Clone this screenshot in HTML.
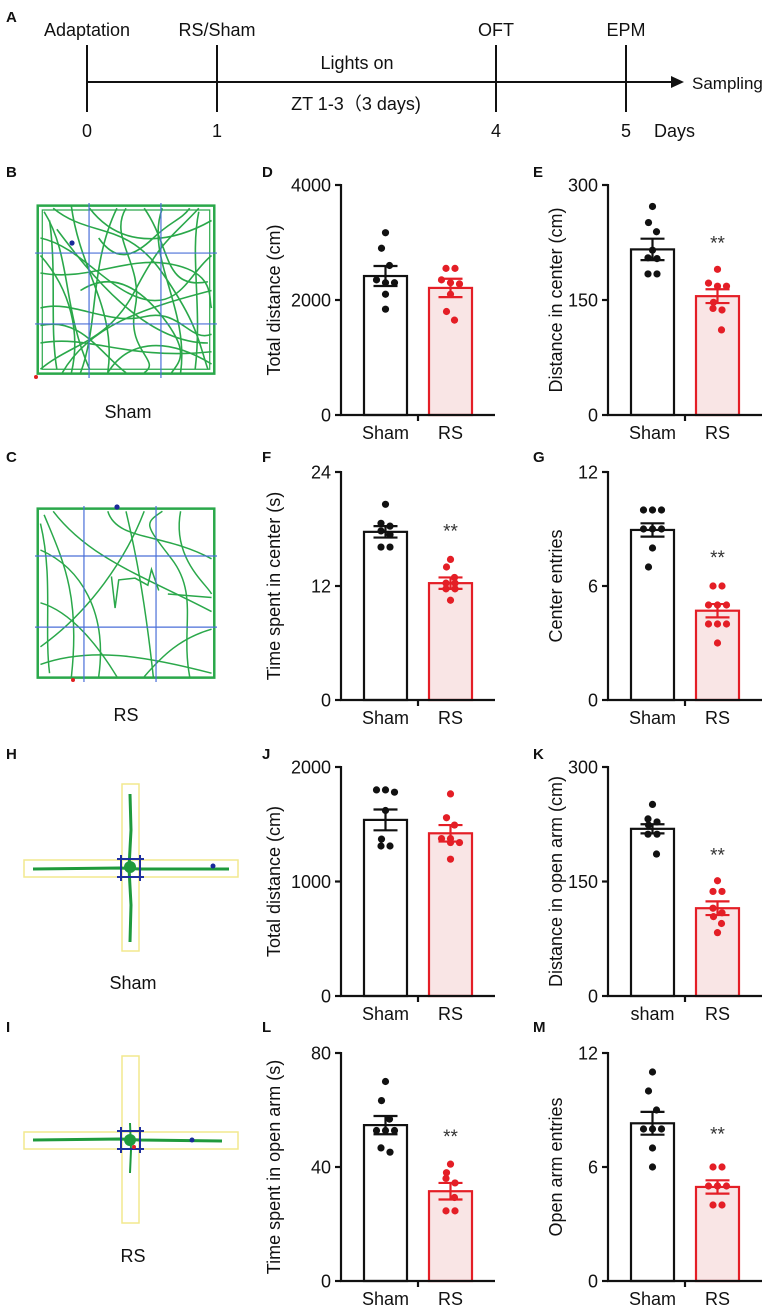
<!DOCTYPE html>
<html><head><meta charset="utf-8">
<style>
html,body{margin:0;padding:0;background:#fff;}
body{width:767px;height:1310px;overflow:hidden;position:relative;font-family:"Liberation Sans",Arial,sans-serif;}
svg text{font-family:"Liberation Sans",Arial,sans-serif;}
</style></head>
<body>
<svg id="fig" width="767" height="1310" viewBox="0 0 767 1310" xmlns="http://www.w3.org/2000/svg" style="position:absolute;left:0;top:0">
<g font-size="18" fill="#111">
  <text x="6" y="22" font-size="15" font-weight="bold">A</text>
  <text x="87" y="36" text-anchor="middle">Adaptation</text>
  <text x="217" y="36" text-anchor="middle">RS/Sham</text>
  <text x="496" y="36" text-anchor="middle">OFT</text>
  <text x="626" y="36" text-anchor="middle">EPM</text>
  <line x1="87" y1="82" x2="674" y2="82" stroke="#111" stroke-width="2"/>
  <polygon points="684,82 671,76 671,88" fill="#111"/>
  <g stroke="#111" stroke-width="2">
    <line x1="87" y1="45" x2="87" y2="112"/><line x1="217" y1="45" x2="217" y2="112"/>
    <line x1="496" y1="45" x2="496" y2="112"/><line x1="626" y1="45" x2="626" y2="112"/>
  </g>
  <text x="357" y="69" text-anchor="middle">Lights on</text>
  <text x="356" y="110" text-anchor="middle">ZT 1-3（3 days)</text>
  <text x="692" y="89" font-size="17">Sampling</text>
  <text x="87" y="137" text-anchor="middle">0</text>
  <text x="217" y="137" text-anchor="middle">1</text>
  <text x="496" y="137" text-anchor="middle">4</text>
  <text x="626" y="137" text-anchor="middle">5</text>
  <text x="654" y="137">Days</text>
</g>

<g font-size="15" font-weight="bold" fill="#111">
  <text x="6" y="177">B</text><text x="262" y="177">D</text><text x="533" y="177">E</text>
  <text x="6" y="462">C</text><text x="262" y="462">F</text><text x="533" y="462">G</text>
  <text x="6" y="759">H</text><text x="262" y="759">J</text><text x="533" y="759">K</text>
  <text x="6" y="1032">I</text><text x="262" y="1032">L</text><text x="533" y="1032">M</text>
</g>

<svg x="35" y="203" width="182" height="175" viewBox="0 0 100 100" preserveAspectRatio="none">
  <g fill="none" stroke="#2aa84a" stroke-width="1.6">
    <path vector-effect="non-scaling-stroke" d="M5,5 C20,30 15,60 30,95"/>
    <path vector-effect="non-scaling-stroke" d="M10,3 C30,20 50,10 70,40 S90,80 95,95"/>
    <path vector-effect="non-scaling-stroke" d="M3,20 C25,25 40,50 60,55 S85,40 97,30"/>
    <path vector-effect="non-scaling-stroke" d="M20,2 C25,40 45,60 40,97"/>
    <path vector-effect="non-scaling-stroke" d="M50,3 C40,20 60,35 55,60 S70,90 60,97"/>
    <path vector-effect="non-scaling-stroke" d="M3,60 C20,55 40,70 60,65 S85,80 97,75"/>
    <path vector-effect="non-scaling-stroke" d="M3,80 C30,75 50,90 97,85"/>
    <path vector-effect="non-scaling-stroke" d="M30,3 C50,30 80,20 97,10"/>
    <path vector-effect="non-scaling-stroke" d="M70,3 C60,30 85,60 80,97"/>
    <path vector-effect="non-scaling-stroke" d="M3,40 C30,45 50,30 75,35 S95,55 97,60"/>
    <path vector-effect="non-scaling-stroke" d="M15,97 C30,70 60,60 97,50"/>
    <path vector-effect="non-scaling-stroke" d="M3,95 C20,80 40,80 55,50 S75,20 90,3"/>
    <path vector-effect="non-scaling-stroke" d="M40,97 C50,80 70,75 97,92"/>
    <path vector-effect="non-scaling-stroke" d="M8,10 C12,40 8,70 12,95"/>
    <path vector-effect="non-scaling-stroke" d="M90,5 C85,30 92,60 88,95"/>
    <path vector-effect="non-scaling-stroke" d="M60,3 C75,25 70,50 95,45"/>
    <path vector-effect="non-scaling-stroke" d="M3,30 C20,50 25,75 20,97"/>
    <path vector-effect="non-scaling-stroke" d="M25,50 C40,40 55,45 70,65 S80,90 75,97"/>
    <path vector-effect="non-scaling-stroke" d="M35,20 C45,35 55,30 65,20 S80,10 85,3"/>
    <path vector-effect="non-scaling-stroke" d="M3,70 C25,65 35,85 50,97"/>
    <path vector-effect="non-scaling-stroke" d="M12,15 C30,40 60,80 95,80"/>
    <path vector-effect="non-scaling-stroke" d="M45,3 C30,35 35,70 25,97"/>
  </g>
  <rect x="1.5" y="1.5" width="97" height="96" fill="none" stroke="#2aa84a" stroke-width="2.5" vector-effect="non-scaling-stroke"/>
  <rect x="4" y="4" width="92" height="91" fill="none" stroke="#2aa84a" stroke-width="1.2" vector-effect="non-scaling-stroke"/>
  <g stroke="#4a6fd8" stroke-width="1.2">
    <line x1="29.7" y1="-4" x2="29.7" y2="104" vector-effect="non-scaling-stroke"/>
    <line x1="69.2" y1="-4" x2="69.2" y2="104" vector-effect="non-scaling-stroke"/>
    <line x1="0" y1="28.6" x2="103" y2="28.6" vector-effect="non-scaling-stroke"/>
    <line x1="0" y1="69.1" x2="103" y2="69.1" vector-effect="non-scaling-stroke"/>
  </g>
</svg>
<circle cx="72" cy="243" r="2.6" fill="#1a2a9a"/>
<circle cx="36" cy="377" r="2" fill="#e02020"/>
<text x="128" y="418" font-size="18" text-anchor="middle" fill="#111">Sham</text>

<svg x="35" y="506" width="182" height="176" viewBox="0 0 100 100" preserveAspectRatio="none">
  <g fill="none" stroke="#2aa84a" stroke-width="1.5">
    <path vector-effect="non-scaling-stroke" d="M5,5 C15,30 25,50 20,97"/>
    <path vector-effect="non-scaling-stroke" d="M10,3 C30,30 60,40 97,60"/>
    <path vector-effect="non-scaling-stroke" d="M3,25 C25,35 40,60 35,97"/>
    <path vector-effect="non-scaling-stroke" d="M50,3 C55,25 60,50 65,97"/>
    <path vector-effect="non-scaling-stroke" d="M60,3 C50,30 30,60 3,80"/>
    <path vector-effect="non-scaling-stroke" d="M80,3 C75,30 95,45 97,50"/>
    <path vector-effect="non-scaling-stroke" d="M3,90 C30,80 60,85 97,95"/>
    <path vector-effect="non-scaling-stroke" d="M40,3 C45,20 70,15 97,30"/>
    <path vector-effect="non-scaling-stroke" d="M3,55 C20,60 35,80 45,97"/>
    <path vector-effect="non-scaling-stroke" d="M85,97 C80,70 90,50 75,30 S60,10 70,3"/>
    <path vector-effect="non-scaling-stroke" d="M42,40 L44,58 L46,42 L55,41 L62,45 L64,36 L68,48"/>
    <path vector-effect="non-scaling-stroke" d="M97,70 C80,75 70,85 60,97"/>
    <path vector-effect="non-scaling-stroke" d="M3,10 C10,40 5,70 8,95"/>
    <path vector-effect="non-scaling-stroke" d="M73,50 L97,52"/>
  </g>
  <rect x="1.5" y="1.5" width="97" height="96" fill="none" stroke="#2aa84a" stroke-width="2.5" vector-effect="non-scaling-stroke"/>
  <g stroke="#4a6fd8" stroke-width="1.2">
    <line x1="26.9" y1="-4" x2="26.9" y2="104" vector-effect="non-scaling-stroke"/>
    <line x1="66.5" y1="-4" x2="66.5" y2="104" vector-effect="non-scaling-stroke"/>
    <line x1="0" y1="28.4" x2="103" y2="28.4" vector-effect="non-scaling-stroke"/>
    <line x1="0" y1="68.8" x2="103" y2="68.8" vector-effect="non-scaling-stroke"/>
  </g>
</svg>
<circle cx="117" cy="507" r="2.6" fill="#1a2a9a"/>
<circle cx="73" cy="680" r="2" fill="#e02020"/>
<text x="126" y="721" font-size="18" text-anchor="middle" fill="#111">RS</text>

<g>
  <rect x="122" y="784" width="17" height="167" fill="none" stroke="#f2e98e" stroke-width="1.5"/>
  <rect x="24" y="860" width="214" height="17" fill="none" stroke="#f2e98e" stroke-width="1.5"/>
  <path d="M33,869 L120,868 L140,869 L229,869" stroke="#1f9a3c" stroke-width="3" fill="none"/>
  <path d="M130,794 L131,830 L129,868 L131,905 L130,942" stroke="#1f9a3c" stroke-width="3" fill="none"/>
  <circle cx="130" cy="867" r="6" fill="#1f9a3c"/>
  <g stroke="#1f2f9e" stroke-width="2">
    <line x1="121" y1="855" x2="121" y2="881"/><line x1="140" y1="855" x2="140" y2="881"/>
    <line x1="117" y1="859" x2="144" y2="859"/><line x1="117" y1="877" x2="144" y2="877"/>
  </g>
  <circle cx="213" cy="866" r="2.5" fill="#1a2a9a"/>
</g>
<text x="133" y="989" font-size="18" text-anchor="middle" fill="#111">Sham</text>

<g>
  <rect x="122" y="1056" width="17" height="167" fill="none" stroke="#f2e98e" stroke-width="1.5"/>
  <rect x="24" y="1132" width="214" height="17" fill="none" stroke="#f2e98e" stroke-width="1.5"/>
  <path d="M33,1140 L120,1139 L140,1140 L222,1141" stroke="#1f9a3c" stroke-width="3" fill="none"/>
  <path d="M130,1123 L131,1150 L130,1173" stroke="#1f9a3c" stroke-width="2" fill="none"/>
  <circle cx="130" cy="1140" r="6" fill="#1f9a3c"/>
  <g stroke="#1f2f9e" stroke-width="2">
    <line x1="121" y1="1127" x2="121" y2="1153"/><line x1="140" y1="1127" x2="140" y2="1153"/>
    <line x1="117" y1="1131" x2="144" y2="1131"/><line x1="117" y1="1149" x2="144" y2="1149"/>
  </g>
  <circle cx="192" cy="1140" r="2.5" fill="#1a2a9a"/>
  <circle cx="134" cy="1147" r="2" fill="#e02020"/>
</g>
<text x="133" y="1262" font-size="18" text-anchor="middle" fill="#111">RS</text>

<g id="charts"></g>
</svg>

<script>
const groupLabels = ["Sham", "RS"];
const groupLabelsK = ["sham", "RS"];
const dTicks = [0, 2000, 4000];
const dMeans = [2417, 2210];
const dSems = [174, 160];
const dShamDots = [3170, 2900, 2600, 2350, 2300, 2300, 2100, 1840];
const dRsDots = [2550, 2550, 2350, 2300, 2280, 2100, 1800, 1650];
const eTicks = [0, 150, 300];
const eMeans = [216, 155];
const eSems = [14, 9];
const eShamDots = [272, 251, 239, 215, 205, 204, 184, 184];
const eRsDots = [190, 172, 168, 168, 147, 139, 137, 111];
const fTicks = [0, 12, 24];
const fMeans = [17.7, 12.3];
const fSems = [0.6, 0.6];
const fShamDots = [20.6, 18.6, 18.3, 17.8, 17.4, 16.1, 16.1];
const fRsDots = [14.8, 14.0, 12.9, 12.3, 12.3, 11.7, 11.7, 10.5];
const gTicks = [0, 6, 12];
const gMeans = [8.95, 4.7];
const gSems = [0.35, 0.35];
const gShamDots = [10, 10, 10, 9, 9, 9, 8, 7];
const gRsDots = [6, 6, 5, 5, 5, 4, 4, 4, 3];
const jTicks = [0, 1000, 2000];
const jMeans = [1538, 1421];
const jSems = [91, 72];
const jShamDots = [1800, 1780, 1800, 1620, 1370, 1310, 1310];
const jRsDots = [1765, 1557, 1493, 1375, 1375, 1340, 1340, 1195];
const kTicks = [0, 150, 300];
const kMeans = [219, 115];
const kSems = [6, 9];
const kShamDots = [251, 232, 228, 224, 212, 212, 186];
const kRsDots = [151, 137, 137, 115, 109, 104, 95, 83];
const lTicks = [0, 40, 80];
const lMeans = [54.7, 31.5];
const lSems = [3.2, 2.9];
const lShamDots = [70, 63.3, 56.8, 52.8, 52.8, 52.8, 46.7, 45.2];
const lRsDots = [41, 38, 36, 34.4, 29.3, 24.6, 24.6];
const mTicks = [0, 6, 12];
const mMeans = [8.3, 4.95];
const mSems = [0.6, 0.35];
const mShamDots = [11, 10, 9, 8, 8, 8, 7, 6];
const mRsDots = [6, 6, 5, 5, 5, 5, 4, 4];

const NS = "http://www.w3.org/2000/svg";
const root = document.getElementById("charts");
function mk(tag, attrs, parent) {
  const e = document.createElementNS(NS, tag);
  for (const k in attrs) e.setAttribute(k, attrs[k]);
  (parent || root).appendChild(e);
  return e;
}
const BLACK = "#111", RED = "#e41e26", PINK = "#f9e5e5";

function drawChart(id, axX, top, zero, ticks, means, sems, dots, title, labels, stars, titleX) {
  const g = mk("g", {});
  
  
  const max = ticks[ticks.length - 1];
  const y = v => zero - (v / max) * (zero - top);
  const barW = 43;
  const centers = [axX + 44.5, axX + 109.5];
  means.forEach((m, i) => {
    const col = i === 0 ? BLACK : RED;
    const r = mk("rect", {x: centers[i] - barW / 2, y: y(m), width: barW, height: zero - y(m),
      fill: i === 0 ? "#fff" : PINK, stroke: col, "stroke-width": 2.2}, g);
    
    
  });
  dots.forEach((arr, i) => {
    const col = i === 0 ? BLACK : RED;
    const sorted = arr.slice().sort((a, b) => b - a);
    const rows = [];
    sorted.forEach(v => {
      const last = rows[rows.length - 1];
      if (last && Math.abs(y(v) - y(last[0])) < 5 && last.length < 3) last.push(v);
      else rows.push([v]);
    });
    let alt = 0;
    rows.forEach(row => {
      const n = row.length;
      row.forEach((v, k) => {
        let off = (k - (n - 1) / 2) * 9;
        if (n === 1) { off = [0, -1, 1, 0][alt % 4] * 4; alt++; }
        const c = mk("circle", {cx: centers[i] + off, cy: y(v), r: 3.6, fill: col}, g);
        
        
      });
    });
  });
  means.forEach((m, i) => {
    const col = i === 0 ? BLACK : RED;
    const eg = mk("g", {stroke: col, "stroke-width": 2.2}, g);
    
    
    mk("line", {x1: centers[i], x2: centers[i], y1: y(m + sems[i]), y2: y(m - sems[i])}, eg);
    mk("line", {x1: centers[i] - 12, x2: centers[i] + 12, y1: y(m + sems[i]), y2: y(m + sems[i])}, eg);
    mk("line", {x1: centers[i] - 12, x2: centers[i] + 12, y1: y(m - sems[i]), y2: y(m - sems[i])}, eg);
  });
  const ax = mk("g", {stroke: BLACK, "stroke-width": 2.2}, g);
  
  
  mk("line", {x1: axX, x2: axX, y1: top - 1, y2: zero + 1}, ax);
  mk("line", {x1: axX - 1, x2: axX + 154, y1: zero, y2: zero}, ax);
  mk("line", {x1: axX + 77, x2: axX + 77, y1: zero, y2: zero + 6}, ax);
  ticks.forEach(t => {
    mk("line", {x1: axX - 6, x2: axX, y1: y(t), y2: y(t)}, ax);
    const tl = mk("text", {x: axX - 10, y: y(t) + 6.5, "text-anchor": "end", "font-size": 18, fill: BLACK}, g);
    tl.textContent = t;
    
    
  });
  labels.forEach((lab, i) => {
    const xl = mk("text", {x: centers[i], y: zero + 24, "text-anchor": "middle", "font-size": 18, fill: BLACK}, g);
    xl.textContent = lab;
    
    
  });
  const ty = (top + zero) / 2;
  const tt = mk("text", {x: titleX, y: ty, "text-anchor": "middle", "font-size": 18, fill: BLACK,
    transform: "rotate(-90 " + titleX + " " + ty + ")", "dominant-baseline": "central"}, g);
  tt.textContent = title;
  
  
  if (stars) {
    const st = mk("text", {x: centers[1], y: y(means[1] + sems[1]) - 40, "text-anchor": "middle", "font-size": 19, fill: "#333"}, g);
    st.textContent = "**";
    
    
  }
  return y;
}

const C2 = 341, C3 = 608, T2 = 274, T3 = 556;
drawChart("d", C2, 185, 415, dTicks, dMeans, dSems, [dShamDots, dRsDots], "Total distance (cm)", groupLabels, false, T2);
drawChart("e", C3, 185, 415, eTicks, eMeans, eSems, [eShamDots, eRsDots], "Distance in center (cm)", groupLabels, true, T3);
drawChart("f", C2, 472, 700, fTicks, fMeans, fSems, [fShamDots, fRsDots], "Time spent in center (s)", groupLabels, true, T2);
drawChart("g", C3, 472, 700, gTicks, gMeans, gSems, [gShamDots, gRsDots], "Center entries", groupLabels, true, T3);
drawChart("j", C2, 767, 996, jTicks, jMeans, jSems, [jShamDots, jRsDots], "Total distance (cm)", groupLabels, false, T2);
drawChart("k", C3, 767, 996, kTicks, kMeans, kSems, [kShamDots, kRsDots], "Distance in open arm (cm)", groupLabelsK, true, T3);
drawChart("l", C2, 1053, 1281, lTicks, lMeans, lSems, [lShamDots, lRsDots], "Time spent in open arm (s)", groupLabels, true, T2);
drawChart("m", C3, 1053, 1281, mTicks, mMeans, mSems, [mShamDots, mRsDots], "Open arm entries", groupLabels, true, T3);
</script>
</body></html>
